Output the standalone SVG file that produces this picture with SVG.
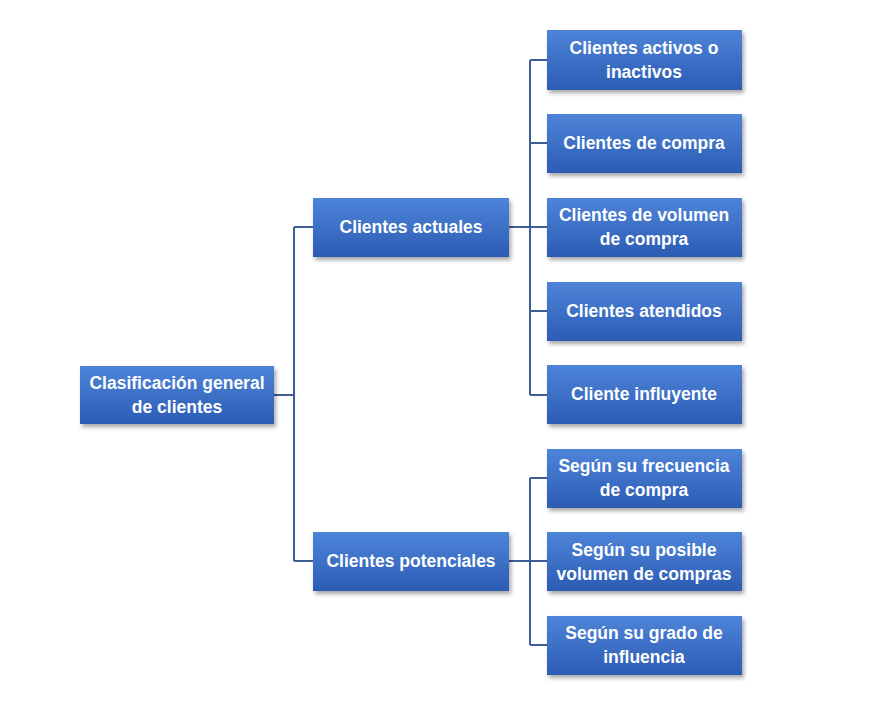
<svg xmlns="http://www.w3.org/2000/svg" width="893" height="711" viewBox="0 0 893 711">
<defs>
<linearGradient id="g" x1="0" y1="0" x2="0" y2="1"><stop offset="0" stop-color="#4d84d8"/><stop offset="1" stop-color="#2c5cb4"/></linearGradient>
<filter id="s" x="-10%" y="-10%" width="125%" height="135%"><feDropShadow dx="2" dy="3" stdDeviation="2" flood-color="#000" flood-opacity="0.35"/></filter>
</defs>
<style>
rect{fill:url(#g);filter:url(#s)}
text{font-family:"Liberation Sans",Arial,sans-serif;font-weight:bold;font-size:17.5px;fill:#fff;text-anchor:middle}
.c{stroke:#3e5f95;stroke-width:2;fill:none}
</style>
<rect width="893" height="711" fill="#fff" style="fill:#fff;filter:none"/>
<g id="connectors" class="c">
<path d="M274 395H294M294 227V561M294 227H313M294 561H313"/>
<path d="M509 227H530M530 60V395M530 60H547M530 143H547M530 227H547M530 311H547M530 395H547"/>
<path d="M509 561H530M530 478V645M530 478H547M530 561H547M530 645H547"/>
</g>
<g id="root"><rect x="80" y="366" width="194" height="58"/><text x="177" y="389">Clasificación general</text><text x="177" y="413">de clientes</text></g>
<g id="actuales"><rect x="313" y="198" width="196" height="59"/><text x="411" y="233">Clientes actuales</text></g>
<g id="potenciales"><rect x="313" y="532" width="196" height="59"/><text x="411" y="567">Clientes potenciales</text></g>
<g id="n1"><rect x="547" y="30" width="195" height="60"/><text x="644" y="54">Clientes activos o</text><text x="644" y="78">inactivos</text></g>
<g id="n2"><rect x="547" y="114" width="195" height="59"/><text x="644" y="149">Clientes de compra</text></g>
<g id="n3"><rect x="547" y="198" width="195" height="59"/><text x="644" y="221">Clientes de volumen</text><text x="644" y="245">de compra</text></g>
<g id="n4"><rect x="547" y="282" width="195" height="59"/><text x="644" y="317">Clientes atendidos</text></g>
<g id="n5"><rect x="547" y="365" width="195" height="59"/><text x="644" y="400">Cliente influyente</text></g>
<g id="n6"><rect x="547" y="449" width="195" height="59"/><text x="644" y="472">Según su frecuencia</text><text x="644" y="496">de compra</text></g>
<g id="n7"><rect x="547" y="532" width="195" height="59"/><text x="644" y="556">Según su posible</text><text x="644" y="580">volumen de compras</text></g>
<g id="n8"><rect x="547" y="616" width="195" height="59"/><text x="644" y="639">Según su grado de</text><text x="644" y="663">influencia</text></g>
</svg>
